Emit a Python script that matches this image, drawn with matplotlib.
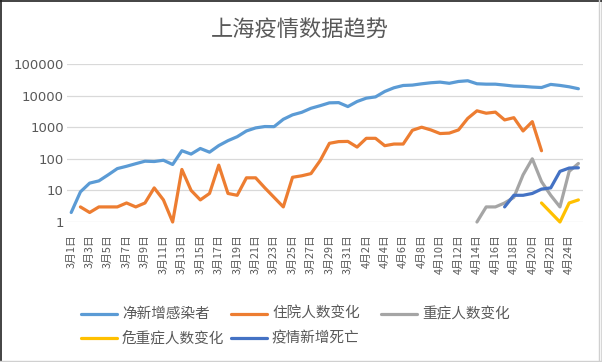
import numpy as np
import matplotlib
matplotlib.use("Agg")
import matplotlib.pyplot as plt
from matplotlib.lines import Line2D
from matplotlib.ticker import FixedLocator, FixedFormatter, NullLocator

plt.rcParams['font.family'] = ['Noto Sans CJK SC', 'DejaVu Sans']

nan = np.nan

# ---- data ----
dates = [f"3月{d}日" for d in range(1, 32)] + [f"4月{d}日" for d in range(1, 26)]

infected = [2, 9, 17, 20, 31, 49, 58, 70, 84, 82, 90, 66, 180, 141, 212, 162,
            262, 375, 500, 760, 950, 1050, 1040, 1780, 2460, 2960, 3970, 4800,
            5900, 6000, 4500, 6500, 8300, 9100, 13500, 17700, 20900, 21500,
            23600, 25500, 26700, 24500, 28000, 29500, 23700, 23000, 23000,
            21500, 20000, 19600, 18600, 18000, 22600, 21000, 19000, 16500]

hospital = [nan, 3, 2, 3, 3, 3, 4, 3, 4, 12, 5, 1, 46, 10, 5, 8, 63, 8, 7, 25,
            25, 12, 6, 3, 26, 29, 34, 88, 309, 350, 355, 235, 445, 445, 260,
            293, 293, 800, 1000, 820, 630, 650, 820, 1900, 3300, 2770, 3000,
            1700, 2000, 760, 1500, 180, nan, nan, nan, nan]

severe = [nan] * 44 + [1, 3, 3, 4, 6, 31, 100, 19, 7, 3, 40, 71]

critical = [nan] * 51 + [4, 2, 1, 4, 5]

deaths = [nan] * 47 + [3, 7, 7, 8, 11, 12, 40, 51, 52]

series_names = ["净新增感染者", "住院人数变化", "重症人数变化", "危重症人数变化", "疫情新增死亡"]
series_data = [infected, hospital, severe, critical, deaths]
colors = ["#5B9BD5", "#ED7D31", "#A5A5A5", "#FFC000", "#4472C4"]

yticks = [1, 10, 100, 1000, 10000, 100000]
title = "上海疫情数据趋势"

# ---- figure ----
W, H = 602, 362
fig = plt.figure(figsize=(W / 100, H / 100), dpi=100)
left, right, top, bottom = 66.6, 583, 64, 222
ax = fig.add_axes([left / W, 1 - bottom / H, (right - left) / W, (bottom - top) / H])

x = np.arange(len(dates))
for name, vals, c in zip(series_names, series_data, colors):
    ax.plot(x, np.array(vals, dtype=float), color=c, lw=2.3,
            solid_joinstyle='round', solid_capstyle='round', clip_on=False, label=name)

ax.set_yscale('log')
ax.set_ylim(1, 100000)
ax.set_xlim(-0.5, len(dates) - 0.5)
ax.yaxis.set_major_locator(FixedLocator(yticks))
ax.yaxis.set_major_formatter(FixedFormatter([str(v) for v in yticks]))
ax.yaxis.set_minor_locator(NullLocator())
ax.grid(axis='y', color='#D9D9D9', lw=0.9)
ax.set_axisbelow(True)
for s in ax.spines.values():
    s.set_visible(False)

ax.set_xticks(x[::2])
ax.set_xticklabels(dates[::2], rotation=90, fontsize=7.8, color='#595959')
ax.tick_params(axis='x', length=0, pad=9)
ax.tick_params(axis='y', length=0, pad=2, labelsize=9.5, labelcolor='#595959')
for lab in ax.get_yticklabels():
    lab.set_fontfamily(['DejaVu Sans'])

fig.text(300 / W, 1 - 30 / H, title, ha='center', va='center', fontsize=16,
         color='#595959', fontweight='light')

# legend (manual layout)
col_x = [81, 231, 381]
row_y = [314, 338]
for i, (name, c) in enumerate(zip(series_names, colors)):
    r, k = divmod(i, 3)
    xs, ys = col_x[k], row_y[r]
    fig.add_artist(Line2D([xs / W, (xs + 36) / W], [1 - ys / H] * 2, color=c, lw=2.3,
                          solid_capstyle='round', transform=fig.transFigure))
    fig.text((xs + 41) / W, 1 - ys / H, name, ha='left', va='center', fontsize=10.5, color='#595959')

# border
fig.add_artist(Line2D([0.5 / W, 0.5 / W], [0, 1], color='#222222', lw=1.2, transform=fig.transFigure))
fig.add_artist(Line2D([0, 1], [1 - 0.5 / H, 1 - 0.5 / H], color='#222222', lw=1.2, transform=fig.transFigure))
fig.add_artist(Line2D([1 - 0.5 / W, 1 - 0.5 / W], [0, 1], color='#333333', lw=1.0, transform=fig.transFigure))
fig.add_artist(Line2D([1 - 3.0 / W, 1 - 3.0 / W], [0, 1], color='#D0D0D0', lw=1, transform=fig.transFigure))
fig.add_artist(Line2D([0, 1], [1.2 / H, 1.2 / H], color='#D0D0D0', lw=1, transform=fig.transFigure))

fig.savefig("out.png", dpi=100)
